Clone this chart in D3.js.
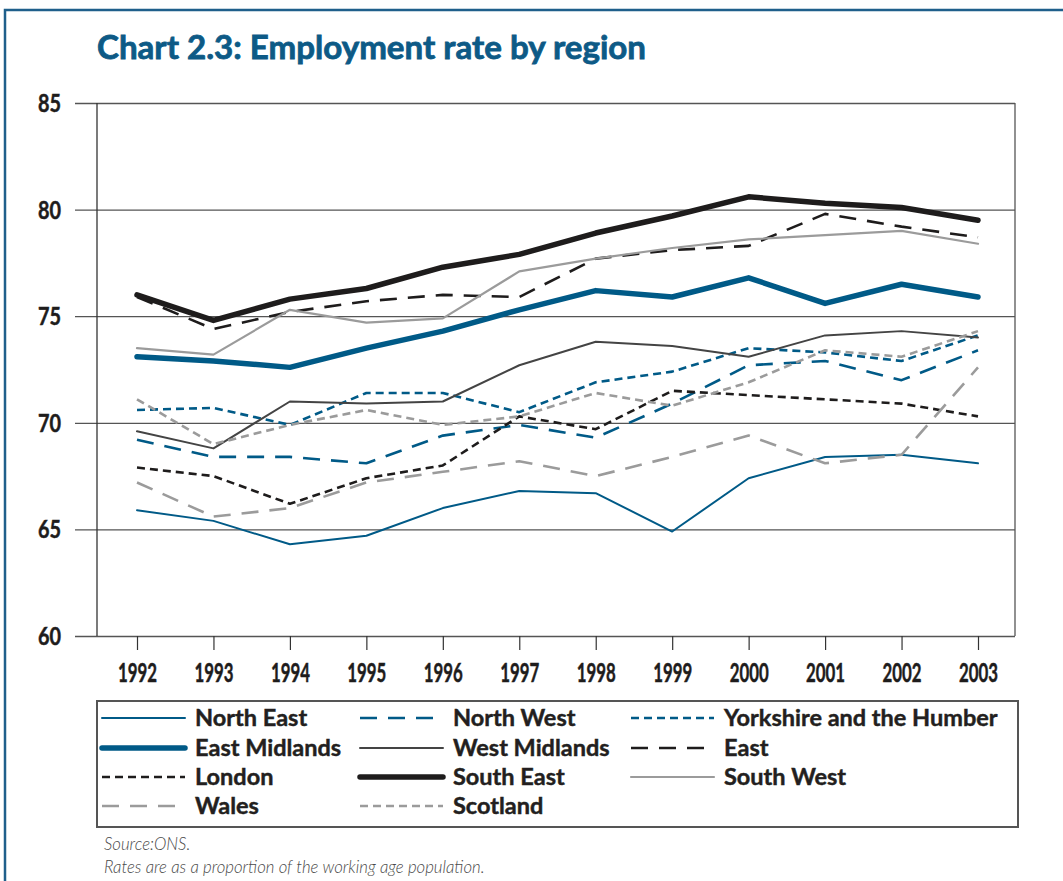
<!DOCTYPE html>
<html>
<head>
<meta charset="utf-8">
<script src="https://cdn.jsdelivr.net/npm/d3@7"></script>
<style>
  html, body { margin: 0; padding: 0; background: #fff; }
  svg { display: block; }
</style>
</head>
<body>
<svg id="chart" width="1063" height="881"></svg>
<script>
// Employment rate (%) by region, 1992-2003
const years = [1992, 1993, 1994, 1995, 1996, 1997, 1998, 1999, 2000, 2001, 2002, 2003];
const yTicks = [60, 65, 70, 75, 80, 85];

const northEast     = [65.9, 65.4, 64.3, 64.7, 66.0, 66.8, 66.7, 64.9, 67.4, 68.4, 68.5, 68.1];
const northWest     = [69.2, 68.4, 68.4, 68.1, 69.4, 69.9, 69.3, 70.9, 72.7, 72.9, 72.0, 73.4];
const yorkshire     = [70.6, 70.7, 69.9, 71.4, 71.4, 70.5, 71.9, 72.4, 73.5, 73.3, 72.9, 74.1];
const eastMidlands  = [73.1, 72.9, 72.6, 73.5, 74.3, 75.3, 76.2, 75.9, 76.8, 75.6, 76.5, 75.9];
const westMidlands  = [69.6, 68.8, 71.0, 70.9, 71.0, 72.7, 73.8, 73.6, 73.1, 74.1, 74.3, 74.0];
const east          = [75.9, 74.4, 75.2, 75.7, 76.0, 75.9, 77.7, 78.1, 78.3, 79.8, 79.2, 78.7];
const london        = [67.9, 67.5, 66.2, 67.4, 68.0, 70.3, 69.7, 71.5, 71.3, 71.1, 70.9, 70.3];
const southEast     = [76.0, 74.8, 75.8, 76.3, 77.3, 77.9, 78.9, 79.7, 80.6, 80.3, 80.1, 79.5];
const southWest     = [73.5, 73.2, 75.3, 74.7, 74.9, 77.1, 77.7, 78.2, 78.6, 78.8, 79.0, 78.4];
const wales         = [67.2, 65.6, 66.0, 67.2, 67.7, 68.2, 67.5, 68.4, 69.4, 68.1, 68.5, 72.6];
const scotland      = [71.1, 69.0, 69.9, 70.6, 69.9, 70.3, 71.4, 70.8, 71.9, 73.4, 73.1, 74.3];

const BLUE = "#005a87", BLACK = "#1e1c1c", GREY = "#9b9b9b", DARK = "#444444";
const LONG = "17,11", SHORT = "8,5";

// Legend order is row by row, three columns
const series = [
  { name: "North East",                values: northEast,    color: BLUE,  width: 2,   dash: null },
  { name: "North West",                values: northWest,    color: BLUE,  width: 2.6, dash: LONG },
  { name: "Yorkshire and the Humber",  values: yorkshire,    color: BLUE,  width: 2.6, dash: SHORT },
  { name: "East Midlands",             values: eastMidlands, color: BLUE,  width: 5.5, dash: null },
  { name: "West Midlands",             values: westMidlands, color: DARK,  width: 2,   dash: null },
  { name: "East",                      values: east,         color: BLACK, width: 2.6, dash: LONG },
  { name: "London",                    values: london,       color: BLACK, width: 2.6, dash: SHORT },
  { name: "South East",                values: southEast,    color: BLACK, width: 5.5, dash: null },
  { name: "South West",                values: southWest,    color: GREY,  width: 2.2, dash: null },
  { name: "Wales",                     values: wales,        color: GREY,  width: 2.6, dash: LONG },
  { name: "Scotland",                  values: scotland,     color: GREY,  width: 2.6, dash: SHORT }
];

const svg = d3.select("#chart");
const plot = { left: 97, right: 1015, top: 103, bottom: 636 };
const textFont = "Lato, 'Open Sans', sans-serif";
const INK = "#1e1c1c";

// Outer frame (top and left rules)
svg.append("path")
  .attr("d", "M5,881 L5,10 L1063,10")
  .attr("fill", "none").attr("stroke", "#1f5f8b").attr("stroke-width", 2.5);

// Title
svg.append("text")
  .attr("x", 97).attr("y", 59)
  .attr("font-family", textFont)
  .attr("font-weight", 700).attr("font-size", 33)
  .attr("textLength", 549).attr("lengthAdjust", "spacingAndGlyphs")
  .attr("fill", "#0d5a86").attr("stroke", "#0d5a86").attr("stroke-width", 0.8)
  .text("Chart 2.3: Employment rate by region");

const x = d3.scalePoint().domain(years).range([137, 978]);
const y = d3.scaleLinear().domain([60, 85]).range([plot.bottom, plot.top]);

// Y axis: ticks that run across the plot as gridlines
const yAxis = svg.append("g")
  .attr("transform", `translate(${plot.right},0)`)
  .call(d3.axisLeft(y).tickValues(yTicks).tickSize(plot.right - 75).tickPadding(14));
yAxis.select(".domain").remove();
yAxis.selectAll(".tick line").attr("stroke", "#555").attr("stroke-width", 1.3);
yAxis.selectAll(".tick text")
  .attr("dy", null).attr("y", 8.5)
  .attr("font-family", textFont).attr("font-weight", 700).attr("font-size", 24)
  .attr("fill", INK).attr("stroke", INK).attr("stroke-width", 0.5)
  .attr("textLength", 23).attr("lengthAdjust", "spacingAndGlyphs");

// X axis
const xAxis = svg.append("g")
  .attr("transform", `translate(0,${plot.bottom})`)
  .call(d3.axisBottom(x).tickSize(14).tickSizeOuter(0));
xAxis.select(".domain").remove();
xAxis.selectAll(".tick line").attr("stroke", "#333").attr("stroke-width", 1.2);
xAxis.selectAll(".tick text")
  .attr("dy", null).attr("y", 46)
  .attr("font-family", textFont).attr("font-weight", 700).attr("font-size", 26)
  .attr("fill", INK).attr("stroke", INK).attr("stroke-width", 0.5)
  .attr("textLength", 39).attr("lengthAdjust", "spacingAndGlyphs");

// Plot frame sides
svg.append("line").attr("x1", plot.left).attr("x2", plot.left)
  .attr("y1", plot.top).attr("y2", plot.bottom).attr("stroke", "#333").attr("stroke-width", 1.3);
svg.append("line").attr("x1", plot.right).attr("x2", plot.right)
  .attr("y1", plot.top).attr("y2", plot.bottom).attr("stroke", "#555").attr("stroke-width", 1.3);

// Series lines
const line = d3.line().x((d, i) => x(years[i])).y(d => y(d));
svg.append("g").selectAll("path")
  .data(series)
  .join("path")
  .attr("d", d => line(d.values))
  .attr("fill", "none")
  .attr("stroke", d => d.color)
  .attr("stroke-width", d => d.width)
  .attr("stroke-dasharray", d => d.dash)
  .attr("stroke-linejoin", "round")
  .attr("stroke-linecap", d => d.dash ? "butt" : "round");

// Legend
const legend = svg.append("g");
legend.append("rect")
  .attr("x", 97).attr("y", 701).attr("width", 921).attr("height", 126)
  .attr("fill", "none").attr("stroke", "#555").attr("stroke-width", 2);

const colX = [102, 360, 631];
const rowY = [718, 748, 777, 806];
const swatchW = 83;
const items = legend.selectAll("g.item")
  .data(series)
  .join("g")
  .attr("class", "item")
  .attr("transform", (d, i) => `translate(${colX[i % 3]},${rowY[Math.floor(i / 3)]})`);
items.append("line")
  .attr("x1", 0).attr("x2", swatchW).attr("y1", 0).attr("y2", 0)
  .attr("stroke", d => d.color)
  .attr("stroke-width", d => d.width)
  .attr("stroke-dasharray", d => d.dash)
  .attr("stroke-linecap", d => d.dash ? "butt" : "round");
items.append("text")
  .attr("x", swatchW + 10).attr("y", 0).attr("dy", "0.36em")
  .attr("font-family", textFont)
  .attr("font-weight", 700).attr("font-size", 23.5)
  .attr("fill", "#231f20").attr("stroke", "#231f20").attr("stroke-width", 0.45)
  .text(d => d.name);

// Notes
const notes = ["Source:ONS.", "Rates are as a proportion of the working age population."];
svg.append("g").selectAll("text")
  .data(notes)
  .join("text")
  .attr("x", 104).attr("y", (d, i) => 850 + i * 23)
  .attr("font-family", textFont)
  .attr("font-style", "italic").attr("font-weight", 300).attr("font-size", 16.8).attr("fill", "#4a4a4a")
  .text(d => d);
</script>
</body>
</html>
